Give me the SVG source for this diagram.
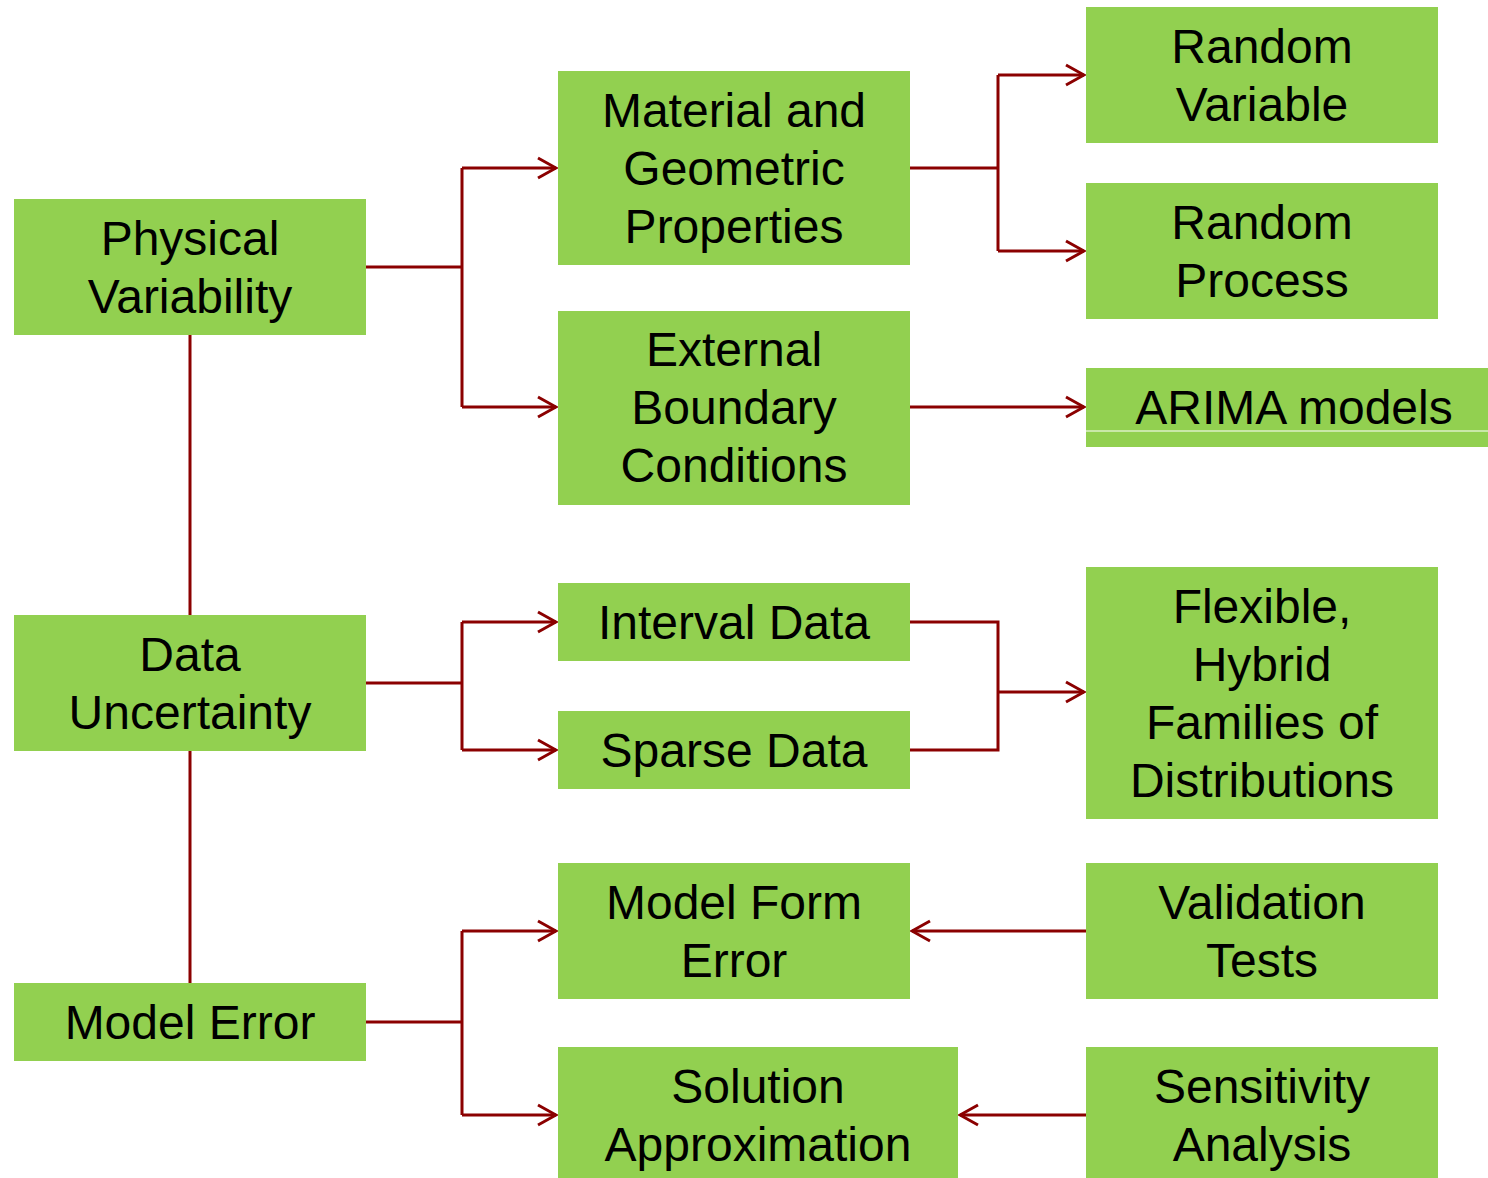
<svg xmlns="http://www.w3.org/2000/svg" width="1488" height="1178" viewBox="0 0 1488 1178">
<style>
.box{fill:#92D050}
.t{font-family:"Liberation Sans",Arial,sans-serif;font-size:48px;fill:#000;text-anchor:middle}
.c{fill:none;stroke:#8B0000;stroke-width:3}
</style>
<defs>
<marker id="arr" markerUnits="userSpaceOnUse" viewBox="-22 -13 24 26" refX="0" refY="0" markerWidth="24" markerHeight="26" orient="auto">
<path d="M-18,-10 L0,0 L-18,10" fill="none" stroke="#8B0000" stroke-width="3"/>
</marker>
</defs>
<rect width="1488" height="1178" fill="#fff"/>
<g id="connectors">
<path class="c" d="M190,335 V615 M190,751 V983"/>
<path class="c" d="M366,267 H462 M462,168 V407"/>
<path class="c" d="M462,168 H556" marker-end="url(#arr)"/>
<path class="c" d="M462,407 H556" marker-end="url(#arr)"/>
<path class="c" d="M910,168 H998 M998,75 V251"/>
<path class="c" d="M998,75 H1084" marker-end="url(#arr)"/>
<path class="c" d="M998,251 H1084" marker-end="url(#arr)"/>
<path class="c" d="M910,407 H1084" marker-end="url(#arr)"/>
<path class="c" d="M366,683 H462 M462,622 V750"/>
<path class="c" d="M462,622 H556" marker-end="url(#arr)"/>
<path class="c" d="M462,750 H556" marker-end="url(#arr)"/>
<path class="c" d="M910,622 H998 V750 H910"/>
<path class="c" d="M998,692 H1084" marker-end="url(#arr)"/>
<path class="c" d="M366,1022 H462 M462,931 V1115"/>
<path class="c" d="M462,931 H556" marker-end="url(#arr)"/>
<path class="c" d="M462,1115 H556" marker-end="url(#arr)"/>
<path class="c" d="M1086,931 H912" marker-end="url(#arr)"/>
<path class="c" d="M1086,1115 H960" marker-end="url(#arr)"/>
</g>
<g id="physical-variability"><rect class="box" x="14" y="199" width="352" height="136"/><text class="t" x="190" y="255">Physical</text><text class="t" x="190" y="313">Variability</text></g>
<g id="data-uncertainty"><rect class="box" x="14" y="615" width="352" height="136"/><text class="t" x="190" y="671">Data</text><text class="t" x="190" y="729">Uncertainty</text></g>
<g id="model-error"><rect class="box" x="14" y="983" width="352" height="78"/><text class="t" x="190" y="1039">Model Error</text></g>
<g id="material"><rect class="box" x="558" y="71" width="352" height="194"/><text class="t" x="734" y="127">Material and</text><text class="t" x="734" y="185">Geometric</text><text class="t" x="734" y="243">Properties</text></g>
<g id="external"><rect class="box" x="558" y="311" width="352" height="194"/><text class="t" x="734" y="366">External</text><text class="t" x="734" y="424">Boundary</text><text class="t" x="734" y="482">Conditions</text></g>
<g id="interval"><rect class="box" x="558" y="583" width="352" height="78"/><text class="t" x="734" y="639">Interval Data</text></g>
<g id="sparse"><rect class="box" x="558" y="711" width="352" height="78"/><text class="t" x="734" y="767">Sparse Data</text></g>
<g id="model-form"><rect class="box" x="558" y="863" width="352" height="136"/><text class="t" x="734" y="919">Model Form</text><text class="t" x="734" y="977">Error</text></g>
<g id="solution"><rect class="box" x="558" y="1047" width="400" height="131"/><text class="t" x="758" y="1103">Solution</text><text class="t" x="758" y="1161">Approximation</text></g>
<g id="random-variable"><rect class="box" x="1086" y="7" width="352" height="136"/><text class="t" x="1262" y="63">Random</text><text class="t" x="1262" y="121">Variable</text></g>
<g id="random-process"><rect class="box" x="1086" y="183" width="352" height="136"/><text class="t" x="1262" y="239">Random</text><text class="t" x="1262" y="297">Process</text></g>
<g id="arima"><rect class="box" x="1086" y="368" width="402" height="79"/><rect x="1086" y="430.5" width="402" height="1" fill="#fff"/><text class="t" x="1294" y="424">ARIMA models</text></g>
<g id="flexible"><rect class="box" x="1086" y="567" width="352" height="252"/><text class="t" x="1262" y="623">Flexible,</text><text class="t" x="1262" y="681">Hybrid</text><text class="t" x="1262" y="739">Families of</text><text class="t" x="1262" y="797">Distributions</text></g>
<g id="validation"><rect class="box" x="1086" y="863" width="352" height="136"/><text class="t" x="1262" y="919">Validation</text><text class="t" x="1262" y="977">Tests</text></g>
<g id="sensitivity"><rect class="box" x="1086" y="1047" width="352" height="131"/><text class="t" x="1262" y="1103">Sensitivity</text><text class="t" x="1262" y="1161">Analysis</text></g>
</svg>
